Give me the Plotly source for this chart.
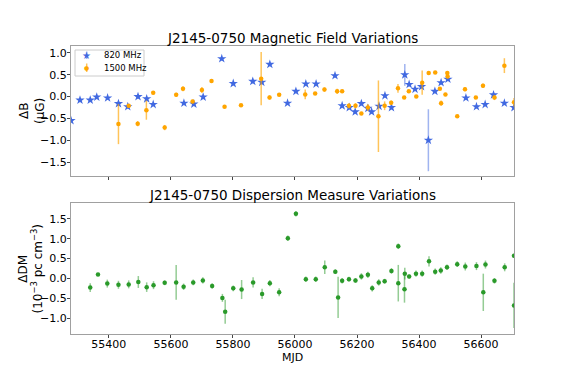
import plotly.graph_objects as go

# 820 MHz magnetic field variations
mjd_820 = [55278, 55307, 55340, 55361, 55396, 55431, 55461, 55494, 55522, 55543,
           55642, 55674, 55704, 55764, 55801, 55864, 55893, 55919, 55976, 56003,
           56035, 56068, 56129, 56152, 56175, 56194, 56214, 56235, 56247, 56271,
           56290, 56311, 56354, 56368, 56387, 56408, 56430, 56451, 56471, 56493,
           56551, 56585, 56613, 56640, 56675, 56706]
b_820 = [-0.55, -0.08, -0.08, -0.01, -0.03, -0.16, -0.23, 0.00, -0.05, -0.18,
         -0.15, -0.17, -0.01, 0.87, 0.30, 0.35, 0.33, 0.74, -0.15, 0.12,
         0.29, 0.29, 0.48, -0.21, -0.25, -0.35, -0.16, -0.27, -0.35, -0.22,
         0.02, -0.25, 0.50, 0.28, 0.17, 0.23, -1.00, 0.12, 0.32, 0.40,
         -0.03, -0.23, -0.18, 0.04, -0.15, -0.25]
b_820_err = [0.04, 0.04, 0.03, 0.03, 0.03, 0.05, 0.04, 0.05, 0.04, 0.04,
             0.04, 0.04, 0.04, 0.04, 0.03, 0.05, 0.05, 0.04, 0.04, 0.04,
             0.04, 0.04, 0.04, 0.04, 0.04, 0.04, 0.04, 0.04, 0.04, 0.04,
             0.05, 0.04, 0.25, 0.05, 0.04, 0.04, 0.71, 0.04, 0.04, 0.04,
             0.05, 0.04, 0.04, 0.04, 0.04, 0.04]

# 1500 MHz magnetic field variations
mjd_1500 = [55431, 55464, 55493, 55521, 55543, 55580, 55617, 55639, 55670, 55700,
            55731, 55773, 55826, 55891, 55918, 55949, 56033, 56065, 56095, 56136,
            56152, 56174, 56195, 56214, 56235, 56269, 56289, 56310, 56332, 56352,
            56367, 56391, 56410, 56431, 56452, 56467, 56471, 56485, 56491, 56492,
            56523, 56548, 56583, 56606, 56643, 56675, 56706]
b_1500 = [-0.63, -0.21, -0.62, -0.31, 0.09, -0.71, 0.04, 0.18, -0.11, 0.15,
          0.36, -0.23, -0.20, 0.41, -0.02, 0.04, 0.05, 0.07, 0.16, 0.12,
          0.12, -0.21, -0.21, -0.39, -0.25, -0.45, -0.21, -0.14, 0.19, -0.02,
          0.12, 0.00, 0.32, 0.54, 0.55, 0.18, -0.15, 0.05, 0.54, 0.46,
          -0.45, 0.17, -0.02, 0.25, -0.02, 0.71, -0.13]
b_1500_err = [0.46, 0.04, 0.06, 0.22, 0.04, 0.06, 0.05, 0.06, 0.04, 0.07,
              0.03, 0.03, 0.03, 0.61, 0.05, 0.03, 0.11, 0.03, 0.05, 0.06,
              0.04, 0.06, 0.06, 0.03, 0.08, 0.82, 0.10, 0.05, 0.10, 0.03,
              0.03, 0.03, 0.28, 0.03, 0.03, 0.03, 0.06, 0.03, 0.04, 0.04,
              0.03, 0.05, 0.03, 0.05, 0.06, 0.17, 0.10]

# dispersion measure variations (1e-3 pc cm^-3)
mjd_dm = [55340, 55365, 55395, 55431, 55464, 55495, 55522, 55544, 55580, 55617,
          55641, 55672, 55703, 55733, 55766, 55775, 55801, 55828, 55865, 55894,
          55919, 55949, 55977, 56003, 56035, 56067, 56096, 56130, 56139, 56152,
          56174, 56195, 56214, 56235, 56249, 56270, 56289, 56311, 56333, 56333,
          56354, 56353, 56368, 56390, 56410, 56432, 56452, 56470, 56490, 56523,
          56549, 56585, 56607, 56614, 56643, 56676, 56706, 56706]
dm = [-0.23, 0.10, -0.13, -0.16, -0.15, -0.09, -0.22, -0.17, -0.11, -0.10,
      -0.21, -0.10, -0.05, -0.19, -0.49, -0.84, -0.25, -0.28, -0.10, -0.39,
      -0.12, -0.35, 1.01, 1.63, -0.02, -0.02, 0.28, 0.17, -0.48, -0.06,
      -0.02, -0.05, 0.05, 0.09, -0.25, -0.10, -0.07, 0.19, 0.81, -0.12,
      0.12, -0.27, 0.05, 0.12, 0.12, 0.43, 0.17, 0.20, 0.28, 0.36,
      0.30, 0.31, -0.35, 0.35, -0.06, 0.28, 0.57, -0.68]
dm_err = [0.11, 0.03, 0.10, 0.10, 0.10, 0.15, 0.12, 0.10, 0.06, 0.44,
          0.08, 0.07, 0.08, 0.07, 0.10, 0.30, 0.07, 0.24, 0.13, 0.13,
          0.08, 0.10, 0.07, 0.07, 0.07, 0.07, 0.17, 0.06, 0.52, 0.07,
          0.06, 0.06, 0.08, 0.08, 0.08, 0.08, 0.06, 0.07, 0.07, 0.46,
          0.15, 0.34, 0.05, 0.08, 0.08, 0.13, 0.08, 0.08, 0.07, 0.07,
          0.10, 0.10, 0.47, 0.10, 0.07, 0.10, 0.05, 0.57]

x_ticks = [55400, 55600, 55800, 56000, 56200, 56400, 56600]
x_range = [55278, 56706]

blue = "royalblue"
orange = "orange"
green = "#2a9a2a"

# figure size / margins (page body adds an 8px offset)
W, H = 556, 366
L, R, T, B = 63, 50, 38, 40
PW, PH = W - L - R, H - T - B


def px(fx):
    return (fx - L) / PW


def py(fy):
    return (H - B - fy) / PH


fig = go.Figure()

fig.add_trace(go.Scatter(
    x=mjd_820, y=b_820, mode="markers", name="820 MHz", showlegend=False,
    marker=dict(symbol="star", size=7, color=blue),
    error_y=dict(type="data", array=b_820_err, color="rgba(65,105,225,0.5)",
                 thickness=1.5, width=0),
    xaxis="x", yaxis="y",
))
fig.add_trace(go.Scatter(
    x=mjd_1500, y=b_1500, mode="markers", name="1500 MHz", showlegend=False,
    marker=dict(symbol="circle", size=4.5, color=orange),
    error_y=dict(type="data", array=b_1500_err, color="rgba(255,165,0,0.65)",
                 thickness=1.5, width=0),
    xaxis="x", yaxis="y",
))
fig.add_trace(go.Scatter(
    x=mjd_dm, y=dm, mode="markers", showlegend=False,
    marker=dict(symbol="circle", size=4.5, color=green),
    error_y=dict(type="data", array=dm_err, color="rgba(42,154,42,0.5)",
                 thickness=1.5, width=0),
    xaxis="x2", yaxis="y2",
))

axis_style = dict(showline=True, mirror=True, linecolor="#a0a0a0", linewidth=1,
                  ticks="outside", ticklen=3, tickcolor="#444", showgrid=False,
                  zeroline=False, tickfont=dict(size=11, color="black"),
                  ticklabelstandoff=-2)

top_dom = [py(176 - 8), 1]
bot_dom = [0, py(203 - 8)]

fig.update_layout(
    width=W, height=H,
    margin=dict(l=L, r=R, t=T, b=B),
    paper_bgcolor="white", plot_bgcolor="white",
    font=dict(family="DejaVu Sans", color="black"),
    showlegend=False,
    xaxis=dict(domain=[0, 1], anchor="y", range=x_range, tickvals=x_ticks,
               showticklabels=False, **axis_style),
    yaxis=dict(domain=top_dom, anchor="x", range=[-1.82, 1.16],
               tickvals=[-1.5, -1.0, -0.5, 0.0, 0.5, 1.0], tickformat=".1f",
               **axis_style),
    xaxis2=dict(domain=[0, 1], anchor="y2", range=x_range, tickvals=x_ticks,
                tickformat="d", **axis_style),
    yaxis2=dict(domain=bot_dom, anchor="x2", range=[-1.40, 1.90],
                tickvals=[-1.0, -0.5, 0.0, 0.5, 1.0, 1.5], tickformat=".1f",
                **axis_style),
    shapes=[
        # legend frame
        dict(type="rect", xref="paper", yref="paper",
             x0=px(67), x1=px(136), y0=py(68), y1=py(42),
             line=dict(color="#cccccc", width=1), fillcolor="white"),
        dict(type="line", xref="paper", yref="paper",
             x0=px(78.7), x1=px(78.7), y0=py(51), y1=py(43.5),
             line=dict(color="rgba(65,105,225,0.5)", width=1.5)),
        dict(type="line", xref="paper", yref="paper",
             x0=px(78.7), x1=px(78.7), y0=py(64), y1=py(55.5),
             line=dict(color="rgba(255,165,0,0.65)", width=1.5)),
    ],
    annotations=[
        dict(text="J2145-0750 Magnetic Field Variations", x=0.5, y=1.0,
             xref="paper", yref="paper", xanchor="center", yanchor="bottom",
             showarrow=False, font=dict(size=13.5), yshift=-2),
        dict(text="J2145-0750 Dispersion Measure Variations", x=0.5, y=bot_dom[1],
             xref="paper", yref="paper", xanchor="center", yanchor="bottom",
             showarrow=False, font=dict(size=13.5), yshift=-2),
        dict(text="ΔB<br>(μG)", x=px(24), y=sum(top_dom) / 2,
             xref="paper", yref="paper", xanchor="center", yanchor="middle",
             textangle=-90, showarrow=False, font=dict(size=12)),
        dict(text="ΔDM<br>(10<sup>−3</sup> pc cm<sup>−3</sup>)", x=px(22),
             y=sum(bot_dom) / 2, xref="paper", yref="paper", xanchor="center",
             yanchor="middle", textangle=-90, showarrow=False,
             font=dict(size=12)),
        dict(text="MJD", x=0.5, y=py(357.5 - 8), xref="paper", yref="paper",
             xanchor="center", yanchor="middle", showarrow=False,
             font=dict(size=11), borderpad=0),
        # legend entries
        dict(text="★", x=px(78.7), y=py(47), xref="paper", yref="paper",
             xanchor="center", yanchor="middle", showarrow=False,
             font=dict(size=10, color=blue)),
        dict(text="●", x=px(78.7), y=py(59.7), xref="paper", yref="paper",
             xanchor="center", yanchor="middle", showarrow=False,
             font=dict(size=6, color=orange)),
        dict(text="820 MHz", x=px(93.5), y=py(47), xref="paper", yref="paper",
             xanchor="left", yanchor="middle", showarrow=False,
             font=dict(size=8.5)),
        dict(text="1500 MHz", x=px(93.5), y=py(59.7), xref="paper", yref="paper",
             xanchor="left", yanchor="middle", showarrow=False,
             font=dict(size=8.5)),
    ],
)
fig.update_xaxes(ticklabelstandoff=-3, selector=dict(anchor="y2"))

fig.write_html("out.html")
